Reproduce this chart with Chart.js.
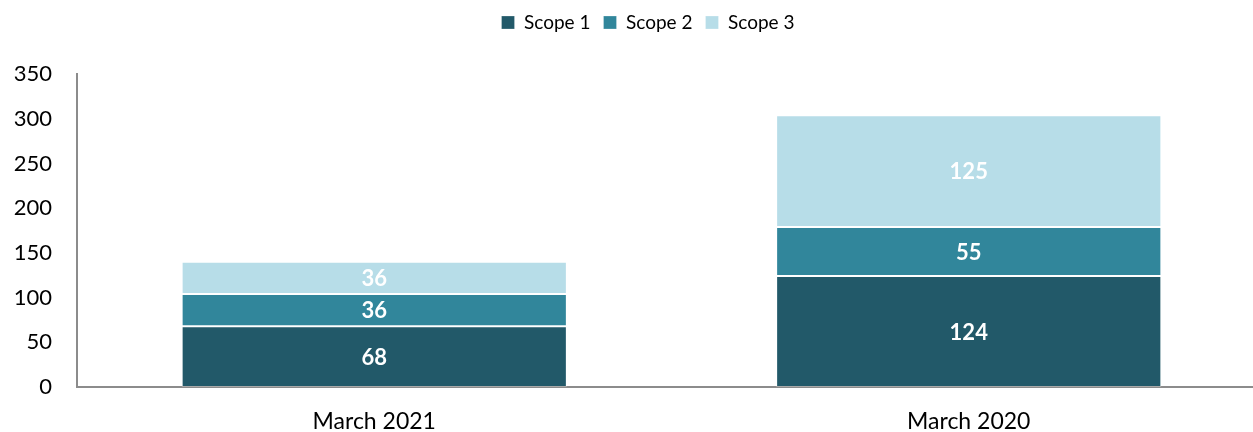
<!DOCTYPE html>
<html>
<head>
<meta charset="utf-8">
<script src="https://cdn.jsdelivr.net/npm/chart.js@4/dist/chart.umd.min.js"></script>
<style>
  html, body { margin: 0; padding: 0; background: #fff; overflow: hidden; }
  #wrap { width: 1296px; height: 432px; }
</style>
</head>
<body>
<div id="wrap"><canvas id="emissions" width="1296" height="432"></canvas></div>
<script>
const categories = ['March 2021', 'March 2020'];
const scope1 = [68, 124];
const scope2 = [36, 55];
const scope3 = [36, 125];
const yTicks = [0, 50, 100, 150, 200, 250, 300, 350];

const FONT = 'Lato, "Open Sans", sans-serif';

// white totals in the middle of every stacked segment
const segmentLabels = {
  id: 'segmentLabels',
  afterDatasetsDraw(chart) {
    const ctx = chart.ctx;
    ctx.save();
    ctx.font = 'bold 22px ' + FONT;
    ctx.fillStyle = '#ffffff';
    ctx.textAlign = 'center';
    ctx.textBaseline = 'middle';
    chart.data.datasets.forEach((ds, i) => {
      chart.getDatasetMeta(i).data.forEach((bar, j) => {
        const { x, y, base } = bar.getProps(['x', 'y', 'base'], true);
        ctx.fillText(String(ds.data[j]), x, (y + base) / 2 + 1);
      });
    });
    ctx.restore();
  }
};

// push the plot down below the legend
const legendGap = {
  id: 'legendGap',
  beforeInit(chart) {
    const fit = chart.legend.fit;
    chart.legend.fit = function () {
      fit.call(this);
      this.height += 32;
    };
  }
};

const ctx = document.getElementById('emissions').getContext('2d');
new Chart(ctx, {
  type: 'bar',
  data: {
    labels: categories,
    datasets: [
      { label: 'Scope 1', data: scope1, backgroundColor: '#225969' },
      { label: 'Scope 2', data: scope2, backgroundColor: '#31869b' },
      { label: 'Scope 3', data: scope3, backgroundColor: '#b7dde8' }
    ].map(d => Object.assign(d, {
      borderColor: 'rgba(255,255,255,0.25)',
      borderWidth: 1,
      borderSkipped: false,
      barPercentage: 0.648,
      categoryPercentage: 1
    }))
  },
  options: {
    responsive: false,
    animation: false,
    layout: { padding: 0 },
    plugins: {
      legend: {
        position: 'top',
        labels: {
          font: { family: FONT, size: 19 },
          color: '#000',
          boxWidth: 13,
          boxHeight: 13,
          padding: 13
        }
      },
      tooltip: { enabled: false }
    },
    scales: {
      x: {
        stacked: true,
        grid: { display: false },
        border: { display: true, color: '#8c8c8c', width: 2 },
        ticks: { font: { family: FONT, size: 23 }, color: '#000', padding: 13 },
        afterFit: s => { s.height = 45; }
      },
      y: {
        stacked: true,
        min: 0,
        max: 350,
        grid: { display: false, drawTicks: false },
        border: { display: true, color: '#8c8c8c', width: 2 },
        afterBuildTicks: s => { s.ticks = yTicks.map(v => ({ value: v })); },
        ticks: { font: { family: FONT, size: 22 }, color: '#000', padding: 25 },
        afterFit: s => { s.width = 77; }
      },
      // empty strip on the right so the plot runs past the visible edge
      edge: {
        position: 'right',
        display: true,
        grid: { display: false, drawTicks: false },
        border: { display: false },
        ticks: { display: false },
        afterFit: s => { s.width = 30; }
      }
    }
  },
  plugins: [segmentLabels, legendGap]
});
</script>
</body>
</html>
